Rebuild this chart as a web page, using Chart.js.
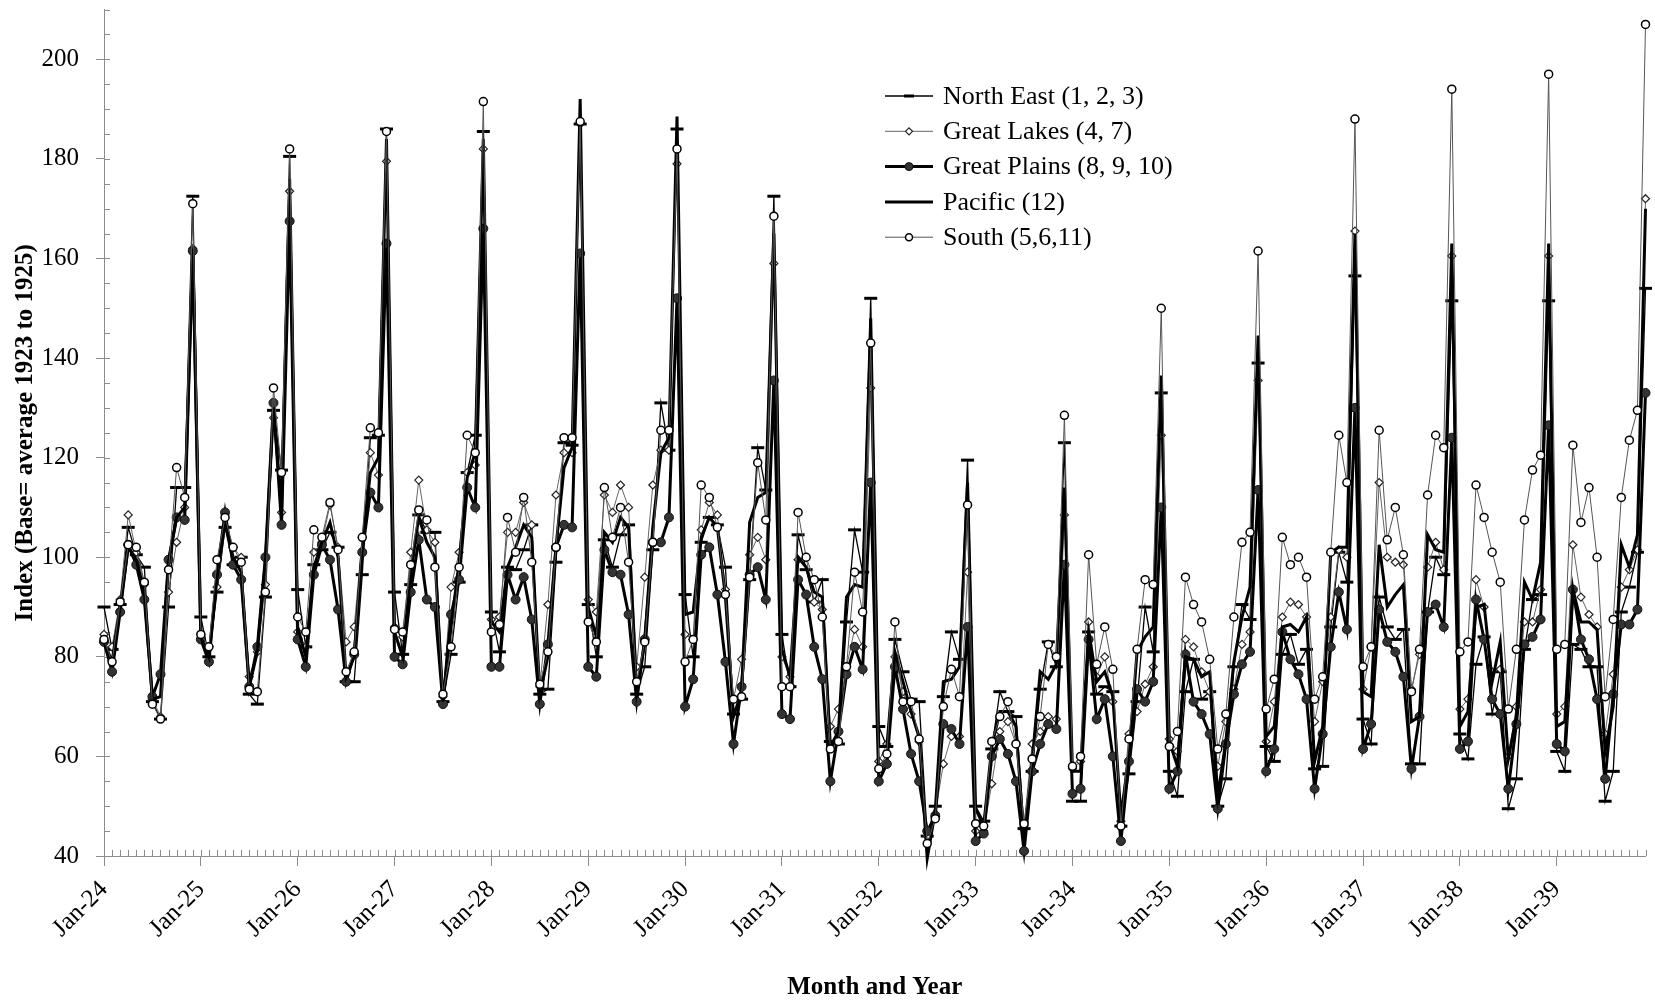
<!DOCTYPE html>
<html>
<head>
<meta charset="utf-8">
<title>Regional index, 1924-1939</title>
<script src="https://cdn.jsdelivr.net/npm/chart.js@4.4.1/dist/chart.umd.min.js"></script>
<style>
  html, body { margin: 0; padding: 0; background: #fff; }
  #wrap { position: relative; width: 1655px; height: 1007px; }
</style>
</head>
<body>
<div id="wrap"><canvas id="chart"></canvas></div>
<script>
// month/year categories
const years = ['24','25','26','27','28','29','30','31','32','33','34','35','36','37','38','39'];
const monthNames = ['Jan','Feb','Mar','Apr','May','Jun','Jul','Aug','Sep','Oct','Nov','Dec'];
const labels = years.flatMap(y => monthNames.map(m => m + '-' + y));

// index values, one row per year (Jan..Dec)
const northEast = [
  90, 81.5, 90.5, 106, 100.5, 98, 71, 67.5, 90, 114, 114, 172.5,
  88, 80, 93, 106, 98.5, 100, 72.5, 70.5, 92, 129.5, 117.5, 180.5,
  93.5, 82, 98.5, 101.5, 105, 102, 75, 75, 96.5, 124, 124.5, 186,
  93, 80.5, 94.5, 108.5, 105, 105, 71, 80.5, 95, 117, 124.5, 185.5,
  89, 81, 98, 97.5, 101.5, 106.5, 72.5, 73.5, 99, 123, 122.5, 187,
  90.5, 80, 103.5, 98, 104.5, 106.5, 72.5, 78, 101.5, 131, 121.5, 186,
  92.5, 80, 103, 108, 106.5, 98, 68.5, 71.5, 95.5, 122, 113.5, 172.5,
  84.5, 74, 104.5, 97.5, 91, 95.5, 63, 62.5, 87, 105.5, 97, 152,
  66, 62, 83.5, 77, 71.5, 71, 44, 50, 72, 85, 79.5, 119.5,
  50, 47, 61.5, 73, 69, 68, 45.5, 57, 73.5, 83, 78, 123,
  51, 51, 85, 72.5, 74, 73, 46, 56.5, 71, 90, 81, 133,
  57, 52, 73, 79.5, 71.5, 73, 50, 55.5, 78, 90.5, 87.5, 139,
  62, 59, 80.5, 84.5, 78.5, 81.5, 57.5, 58, 86, 101, 95, 156.5,
  67.5, 62.5, 92, 86, 83.5, 85.5, 58.5, 58.5, 89, 100, 96.5, 151.5,
  64.5, 59.5, 78.5, 84, 68.5, 77, 49.5, 55.5, 81.5, 91.5, 92.5, 151.5,
  61, 57, 82.5, 81.5, 78, 78, 51, 57, 89, 94, 101, 154
];
const greatLakes = [
  84.5, 82, 91.5, 108.5, 101, 94.5, 71.5, 68, 93, 103, 110, 162,
  84.5, 82, 94, 106, 102, 100, 76, 81, 94.5, 128, 109, 173.5,
  85, 82, 101, 103, 110.5, 102, 83, 86, 104, 121, 116.5, 179.5,
  86, 84, 101, 115.5, 105.5, 103, 72, 94, 101, 117, 118.5, 182,
  87.5, 88, 105, 105, 111, 106.5, 74, 90.5, 112.5, 121, 121, 187,
  91.5, 89, 112.5, 109, 114.5, 110, 78, 96, 114.5, 121.5, 121.5, 179,
  84.5, 83.5, 105.5, 111, 108.5, 93.5, 71.5, 79.5, 100.5, 104, 99.5, 159,
  80, 76, 99.5, 100, 91, 89.5, 66, 69.5, 78, 85.5, 82, 134,
  59, 62.5, 80, 73, 68.5, 63, 44, 48.5, 58.5, 64, 64, 97,
  45, 45, 54.5, 65, 67, 62.5, 46, 62.5, 65, 68, 67.5, 108.5,
  57.5, 59, 87, 76, 80, 71, 47, 64.5, 69, 74.5, 78, 124.5,
  63.5, 61, 83.5, 82, 77, 73, 58, 67, 73.5, 82.5, 85, 135.5,
  63, 71, 88, 91, 90.5, 88, 67, 75, 88, 101.5, 100, 165.5,
  73.5, 82, 115, 100, 99, 98.5, 73.5, 80.5, 98, 103, 97.5, 160.5,
  69.5, 71.5, 95.5, 90, 77, 77.5, 60, 70, 87, 87, 93.5, 160.5,
  68.5, 70, 102.5, 92, 88.5, 86, 64.5, 76.5, 94, 97.5, 101.5, 172
];
const greatPlains = [
  83, 77, 89, 102.5, 98.5, 91.5, 72, 76.5, 99.5, 108, 107.5, 161.5,
  83.5, 79, 96.5, 109, 98.5, 95.5, 74, 82, 100, 131, 106.5, 167.5,
  83.5, 78, 96.5, 102.5, 99.5, 89.5, 75, 80.5, 101, 113, 110, 163,
  80, 78.5, 93, 103.5, 91.5, 90, 70.5, 88.5, 95.5, 114, 110, 166,
  78, 78, 96.5, 91.5, 96, 87.5, 70.5, 82.5, 102, 106.5, 106, 161,
  78, 76, 101.5, 97, 96.5, 88.5, 71, 83.5, 103, 103, 108, 152,
  70, 75.5, 100.5, 102, 92.5, 79, 62.5, 74, 96.5, 98, 91.5, 135.5,
  68.5, 67.5, 95.5, 92.5, 82, 75.5, 55, 65, 76.5, 82, 77.5, 115,
  55, 58.5, 78, 69.5, 60.5, 55, 45, 48, 66.5, 65.5, 62.5, 86,
  43, 44.5, 60, 63.5, 60.5, 55, 41, 57, 62.5, 66.5, 65.5, 98.5,
  52.5, 53.5, 83.5, 67.5, 71.5, 60, 43, 59, 73.5, 71, 75, 110,
  53.5, 57, 80.5, 71, 68.5, 64.5, 49.5, 62.5, 72.5, 78.5, 81, 113.5,
  57, 61.5, 85, 79.5, 76.5, 71.5, 53.5, 64.5, 82, 93, 85.5, 130,
  61.5, 66.5, 89.5, 83, 81, 76, 57.5, 68, 89, 90.5, 86, 124,
  61.5, 63, 91.5, 83.5, 71.5, 68.5, 53.5, 66.5, 82.5, 84, 87.5, 126.5,
  62.5, 61, 93.5, 83.5, 79.5, 71.5, 55.5, 72.5, 86.5, 86.5, 89.5, 133
];
const pacific = [
  83, 79, 90, 102, 99.5, 93, 71.5, 72, 99, 108, 110, 162,
  84, 80, 96, 107, 100, 97, 74, 81, 99, 130, 110, 176,
  86, 80, 98, 103, 107, 100, 76, 80, 102, 117, 120, 184,
  85, 80, 97, 108, 103, 100, 71, 86, 99, 116, 121, 184,
  87, 85, 98, 102, 106.5, 104, 72.5, 80, 102, 118, 122, 192,
  90, 84, 105, 103, 108, 106, 73, 83, 106, 121, 124, 188.5,
  88.5, 89, 104, 108, 106, 92, 68, 73, 107, 112, 113, 165,
  81.5, 76, 100, 98, 93, 92, 62, 65, 92, 94.5, 94, 148,
  62, 62, 81, 75, 69, 64, 39.5, 49, 75, 75.5, 78, 115,
  49.5, 46, 62, 69, 69, 66, 43, 59, 77, 75.5, 78.5, 114,
  57, 57, 85, 75, 77, 72, 48, 60, 81, 84, 86, 136.5,
  63, 58, 80, 79.5, 76, 77, 52, 63, 79, 88, 94, 144.5,
  64, 66, 86, 86.5, 85, 88, 59, 66, 101, 102, 102, 165,
  73, 72, 102.5, 90, 92.5, 94.5, 67, 68, 104.5, 101.5, 101, 163,
  66, 69, 90, 90.5, 75, 83, 59.5, 68, 95, 91.5, 99, 163,
  66, 67, 93.5, 87, 87, 85.5, 61, 70, 102.5, 98, 104.5, 170
];
const south = [
  83.5, 79, 91, 102.5, 102, 95, 70.5, 67.5, 97.5, 118, 112, 171,
  84.5, 82, 99.5, 108, 102, 99, 73.5, 73, 93, 134, 117, 182,
  88, 85, 105.5, 104, 111, 101.5, 77, 81, 104, 126, 125, 185.5,
  85.5, 85, 98.5, 109.5, 107.5, 98, 72.5, 82, 98, 124.5, 121, 191.5,
  85, 86.5, 108, 101, 112, 99, 74.5, 81, 102, 124, 124, 187.5,
  87, 83, 114, 104, 110, 99, 75, 83, 103, 125.5, 125.5, 182,
  79, 83.5, 114.5, 112, 106, 92.5, 71.5, 72, 96, 119, 107.5, 168.5,
  74, 74, 109, 100, 95.5, 88, 61.5, 63, 78, 97, 89, 143,
  57.5, 60.5, 87, 71, 71, 63.5, 42.5, 47.5, 70, 77.5, 72, 110.5,
  46.5, 46, 63, 68, 71, 62.5, 46.5, 59.5, 68, 82.5, 80, 128.5,
  58, 60, 100.5, 78.5, 86, 77.5, 46, 63.5, 81.5, 95.5, 94.5, 150,
  62, 65, 96, 90.5, 87, 79.5, 61.5, 68.5, 88, 103, 105, 161.5,
  69.5, 75.5, 104, 98.5, 100, 96, 71.5, 76, 101, 124.5, 115, 188,
  78, 82, 125.5, 103.5, 110, 100.5, 73, 81.5, 112.5, 124.5, 122, 194,
  81, 83, 114.5, 108, 101, 95, 69.5, 81.5, 107.5, 117.5, 120.5, 197,
  81.5, 82.5, 122.5, 107, 114, 100, 72, 87.5, 112, 123.5, 129.5, 207
];

const yTickValues = [40, 60, 80, 100, 120, 140, 160, 180, 200];

const axisGray = '#8c8c8c';
const serif = '"Liberation Serif", "Times New Roman", serif';
Chart.defaults.font.family = serif;
Chart.defaults.color = '#000';

// small inward ticks: every 5 index points and every month
const minorTicks = {
  id: 'minorTicks',
  beforeDatasetsDraw(chart) {
    const { ctx, chartArea, scales: { x, y } } = chart;
    ctx.save();
    ctx.strokeStyle = axisGray;
    ctx.lineWidth = 1;
    ctx.beginPath();
    for (let v = 40; v <= 210; v += 5) {
      const py = Math.round(y.getPixelForValue(v)) + 0.5;
      ctx.moveTo(chartArea.left, py);
      ctx.lineTo(chartArea.left + 6, py);
    }
    for (let i = 0; i < labels.length; i++) {
      const px = Math.round(x.getPixelForValue(i)) + 0.5;
      ctx.moveTo(px, chartArea.bottom);
      ctx.lineTo(px, chartArea.bottom - 6);
    }
    ctx.stroke();
    ctx.restore();
  }
};

// legend box drawn inside the plot
const insideLegend = {
  id: 'insideLegend',
  afterDraw(chart) {
    const { ctx } = chart;
    const x0 = 885, x1 = 933, tx = 943, top = 96, step = 35.3;
    ctx.save();
    ctx.font = '26px ' + serif;
    ctx.textBaseline = 'middle';
    ctx.fillStyle = '#000';
    chart.data.datasets.forEach((ds, k) => {
      const yy = top + k * step;
      ctx.strokeStyle = ds.borderColor;
      ctx.lineWidth = ds.borderWidth;
      ctx.beginPath();
      ctx.moveTo(x0, yy);
      ctx.lineTo(x1, yy);
      ctx.stroke();
      if (ds.pointRadius > 0) {
        ctx.fillStyle = ds.pointBackgroundColor || '#000';
        ctx.strokeStyle = ds.pointBorderColor;
        ctx.lineWidth = ds.pointBorderWidth;
        Chart.helpers.drawPoint(ctx, {
          pointStyle: ds.pointStyle,
          radius: ds.pointStyle === 'line' ? 5 : ds.pointRadius - 0.5,
          rotation: 0,
          borderWidth: ds.pointBorderWidth
        }, (x0 + x1) / 2, yy);
      }
      ctx.fillStyle = '#000';
      ctx.fillText(ds.label, tx, yy + 1);
    });
    ctx.restore();
  }
};

new Chart(document.getElementById('chart'), {
  type: 'line',
  data: {
    labels: labels,
    datasets: [
      {
        label: 'North East (1, 2, 3)',
        data: northEast,
        borderColor: '#000',
        borderWidth: 1.3,
        pointStyle: 'line',
        pointRadius: 6.5,
        pointBorderWidth: 3,
        pointBorderColor: '#000',
        order: 5
      },
      {
        label: 'Great Lakes (4, 7)',
        data: greatLakes,
        borderColor: '#666',
        borderWidth: 1,
        pointStyle: 'rectRot',
        pointRadius: 4,
        pointBackgroundColor: '#fff',
        pointBorderColor: '#222',
        pointBorderWidth: 1.2,
        order: 4
      },
      {
        label: 'Great Plains (8, 9, 10)',
        data: greatPlains,
        borderColor: '#000',
        borderWidth: 3,
        pointStyle: 'circle',
        pointRadius: 4.5,
        pointBackgroundColor: '#333',
        pointBorderColor: '#111',
        pointBorderWidth: 1,
        order: 3
      },
      {
        label: 'Pacific (12)',
        data: pacific,
        borderColor: '#000',
        borderWidth: 3,
        pointRadius: 0,
        order: 2
      },
      {
        label: 'South (5,6,11)',
        data: south,
        borderColor: '#555',
        borderWidth: 1,
        pointStyle: 'circle',
        pointRadius: 4,
        pointBackgroundColor: '#fff',
        pointBorderColor: '#000',
        pointBorderWidth: 1.5,
        order: 1
      }
    ]
  },
  options: {
    responsive: true,
    maintainAspectRatio: false,
    animation: false,
    devicePixelRatio: 1,
    layout: { padding: { top: 7, right: 2, left: 0, bottom: 0 } },
    elements: { line: { tension: 0 } },
    datasets: { line: { clip: false } },
    plugins: {
      legend: { display: false },
      tooltip: { enabled: false }
    },
    scales: {
      x: {
        type: 'category',
        offset: false,
        afterFit: s => {
          s.height = 151;
          s.paddingLeft = 0;
          s.paddingRight = 0;
        },
        border: { display: true, color: axisGray, width: 1 },
        grid: {
          display: true,
          drawOnChartArea: false,
          tickLength: 10,
          color: c => (c.index % 12 === 0 ? axisGray : 'rgba(0,0,0,0)')
        },
        ticks: {
          autoSkip: false,
          minRotation: 45,
          maxRotation: 45,
          padding: 9,
          font: { size: 25 },
          color: '#000',
          callback: (v, i) => (i % 12 === 0 ? labels[i] : '')
        },
        title: {
          display: true,
          text: 'Month and Year',
          font: { size: 25, weight: 'bold' },
          color: '#000',
          padding: { top: 0, bottom: 4 }
        }
      },
      y: {
        type: 'linear',
        min: 40,
        max: 210,
        afterFit: s => {
          s.width = 104;
          s.paddingTop = 0;
          s.paddingBottom = 0;
        },
        border: { display: true, color: axisGray, width: 1 },
        grid: {
          display: true,
          drawOnChartArea: false,
          tickLength: 8,
          color: c => (c.tick && yTickValues.includes(c.tick.value) ? axisGray : 'rgba(0,0,0,0)')
        },
        ticks: {
          stepSize: 20,
          padding: 17,
          font: { size: 25 },
          color: '#000',
          callback: v => (yTickValues.includes(v) ? v : '')
        },
        title: {
          display: true,
          text: 'Index (Base= average 1923 to 1925)',
          font: { size: 25, weight: 'bold' },
          color: '#000',
          padding: { top: 11, bottom: 0 }
        }
      }
    }
  },
  plugins: [minorTicks, insideLegend]
});
</script>
</body>
</html>
